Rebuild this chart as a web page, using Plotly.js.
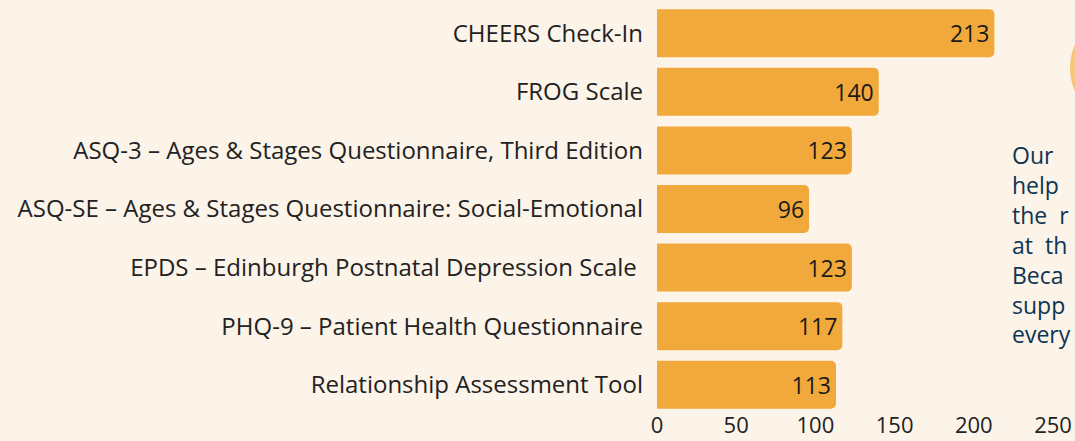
<!DOCTYPE html>
<html>
<head>
<meta charset="utf-8">
<script src="https://cdn.plot.ly/plotly-3.0.1.min.js"></script>
<style>
html,body{margin:0;padding:0;background:#fcf3e9;overflow:hidden;}
#chart{width:1075px;height:441px;}
</style>
</head>
<body>
<div id="chart"></div>
<script>
const categories = [
  "CHEERS Check-In",
  "FROG Scale",
  "ASQ-3 – Ages & Stages Questionnaire, Third Edition",
  "ASQ-SE – Ages & Stages Questionnaire: Social-Emotional",
  "EPDS – Edinburgh Postnatal Depression Scale ",
  "PHQ-9 – Patient Health Questionnaire",
  "Relationship Assessment Tool"
];
const counts = [213, 140, 123, 96, 123, 117, 113];
const xTicks = [0, 50, 100, 150, 200, 250];
const sideText = ["Our", "help", "the&nbsp;&nbsp;r", "at&nbsp;&nbsp;th", "Beca", "supp", "every"];

const W = 1075, H = 441;
const margin = {l: 657, r: 22, t: 4, b: 27};
const pw = W - margin.l - margin.r, ph = H - margin.t - margin.b;
const px2x = p => (p - margin.l) / pw;
const px2y = p => (H - margin.b - p) / ph;

const font = "'Open Sans', sans-serif";

const trace = {
  type: "bar",
  orientation: "h",
  y: categories,
  x: counts,
  text: counts.map(String),
  textposition: "inside",
  insidetextanchor: "end",
  textfont: {family: font, size: 23, color: "#1a1a1a"},
  marker: {color: "#f2a93b", line: {width: 0}},
  hoverinfo: "none",
  cliponaxis: false
};

const layout = {
  width: W, height: H,
  margin: margin,
  paper_bgcolor: "#fcf3e9",
  plot_bgcolor: "#fcf3e9",
  bargap: 0.18,
  barcornerradius: 5,
  showlegend: false,
  font: {family: font, size: 23, color: "#222222"},
  xaxis: {
    range: [0, 250],
    tickvals: xTicks,
    ticktext: xTicks.map(String),
    showgrid: false, zeroline: false, showline: false, ticks: "",
    ticklabelstandoff: -4,
    tickfont: {family: font, size: 22, color: "#222222"},
    fixedrange: true
  },
  yaxis: {
    autorange: "reversed",
    showgrid: false, zeroline: false, showline: false, ticks: "",
    ticklabelstandoff: 13,
    tickfont: {family: font, size: 24, color: "#222222"},
    fixedrange: true
  },
  shapes: [{
    type: "circle", xref: "paper", yref: "paper", layer: "below",
    x0: px2x(1070), x1: px2x(1186), y0: px2y(126), y1: px2y(10),
    fillcolor: "#f6c67c", line: {width: 0}
  }],
  annotations: [{
    xref: "paper", yref: "paper",
    x: px2x(1010), y: px2y(244),
    xanchor: "left", yanchor: "middle", align: "left",
    showarrow: false,
    text: sideText.join("<br>"),
    font: {family: font, size: 23, color: "#0e3552"}
  }]
};

Plotly.newPlot("chart", [trace], layout, {displayModeBar: false, staticPlot: true});
</script>
</body>
</html>
